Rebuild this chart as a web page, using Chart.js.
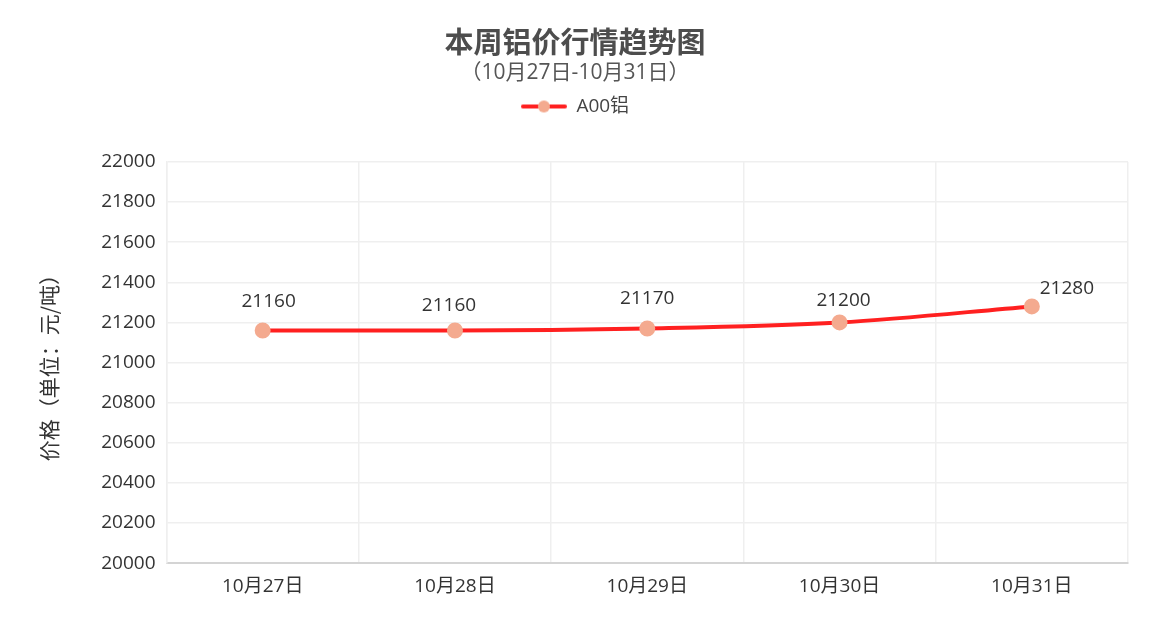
<!DOCTYPE html>
<html>
<head>
<meta charset="utf-8">
<script src="https://cdn.jsdelivr.net/npm/chart.js@4"></script>
<style>
html,body{margin:0;padding:0;background:#fff;}
#wrap{width:1172px;height:644px;}
</style>
</head>
<body>
<div id="wrap"><canvas id="c" width="1172" height="644"></canvas></div>
<script>
const categories = ['10月27日', '10月28日', '10月29日', '10月30日', '10月31日'];
const seriesName = 'A00铝';
const seriesValues = [21160, 21160, 21170, 21200, 21280];
const yTicks = [20000, 20200, 20400, 20600, 20800, 21000, 21200, 21400, 21600, 21800, 22000];
const titleText = '本周铝价行情趋势图';
const subtitleText = '（10月27日-10月31日）';
const yAxisTitle = '价格（单位：元/吨）';

const FONT = "'Open Sans', 'Noto Sans CJK SC', sans-serif";
const CJK_FONT = "'Noto Sans CJK SC', 'Open Sans', sans-serif";
const LINE_COLOR = '#ff2020';
const POINT_COLOR = '#f4aa8f';

// label style offsets (dx, dy from point)
const labelOffsets = [[6, -29], [-6, -25], [0, -30], [4, -22], [35, -18]];

// legend icon: line with circle
const icon = document.createElement('canvas');
icon.width = 46; icon.height = 14;
(function(){
  const g = icon.getContext('2d');
  g.strokeStyle = LINE_COLOR; g.lineWidth = 4; g.lineCap = 'round';
  g.beginPath(); g.moveTo(2, 7); g.lineTo(44, 7); g.stroke();
  g.fillStyle = POINT_COLOR;
  g.beginPath(); g.arc(23, 7, 6, 0, Math.PI * 2); g.fill();
})();

const legendGap = {
  id: 'legendGap',
  beforeInit(chart) {
    const lg = chart.legend;
    if (!lg) return;
    const fit = lg.fit;
    lg.fit = function () { fit.call(this); this.height += 36; };
  }
};

const dataLabels = {
  id: 'dataLabels',
  afterDatasetsDraw(chart) {
    const ctx = chart.ctx;
    const meta = chart.getDatasetMeta(0);
    ctx.save();
    ctx.font = '19px ' + FONT;
    ctx.fillStyle = '#333';
    ctx.textAlign = 'center';
    ctx.textBaseline = 'middle';
    meta.data.forEach((pt, i) => {
      const o = labelOffsets[i] || [0, -26];
      ctx.fillText(String(chart.data.datasets[0].data[i]), pt.x + o[0], pt.y + o[1]);
    });
    ctx.restore();
  }
};

new Chart(document.getElementById('c'), {
  type: 'line',
  data: {
    labels: categories,
    datasets: [{
      label: seriesName,
      data: seriesValues,
      borderColor: LINE_COLOR,
      borderWidth: 4,
      backgroundColor: POINT_COLOR,
      pointBackgroundColor: POINT_COLOR,
      pointBorderColor: POINT_COLOR,
      pointRadius: 6,
      pointHoverRadius: 6,
      tension: 0.4,
      cubicInterpolationMode: 'monotone',
      fill: false
    }]
  },
  options: {
    responsive: false,
    animation: false,
    devicePixelRatio: 1,
    layout: { padding: { left: 22, right: 44, top: 0, bottom: 34 } },
    plugins: {
      title: {
        display: true,
        text: titleText,
        color: '#4d4d4d',
        font: { family: CJK_FONT, size: 29, weight: 'bold', lineHeight: 1.2 },
        padding: { top: 25, bottom: 1 }
      },
      subtitle: {
        display: true,
        text: subtitleText,
        color: '#555',
        font: { family: FONT, size: 21, lineHeight: 1.15 },
        padding: { top: 0, bottom: 5 }
      },
      legend: {
        display: true,
        labels: {
          usePointStyle: true,
          pointStyleWidth: 46,
          boxHeight: 14,
          color: '#444',
          font: { family: FONT, size: 19 },
          padding: 7,
          generateLabels(chart) {
            return [{
              text: seriesName,
              pointStyle: icon,
              fillStyle: POINT_COLOR,
              strokeStyle: LINE_COLOR,
              lineWidth: 0,
              fontColor: '#444',
              hidden: false,
              datasetIndex: 0
            }];
          }
        }
      },
      tooltip: { enabled: false }
    },
    scales: {
      x: {
        offset: true,
        grid: { offset: true, color: '#efefef', lineWidth: 1.5, drawTicks: false },
        border: { color: '#d4d4d4', width: 2 },
        ticks: { color: '#333', font: { family: FONT, size: 19 }, padding: 12, maxRotation: 0 }
      },
      y: {
        min: 20000,
        max: 22000,
        afterBuildTicks(scale) { scale.ticks = yTicks.map(v => ({ value: v })); },
        grid: { color: '#efefef', lineWidth: 1.5, drawTicks: false },
        border: { color: '#efefef', width: 1.5 },
        ticks: { color: '#333', font: { family: FONT, size: 19 }, padding: 11, callback: v => String(v) },
        title: {
          display: true,
          text: yAxisTitle,
          color: '#333',
          font: { family: CJK_FONT, size: 21 },
          padding: { top: 14, bottom: 29 }
        }
      }
    }
  },
  plugins: [legendGap, dataLabels]
});
</script>
</body>
</html>
